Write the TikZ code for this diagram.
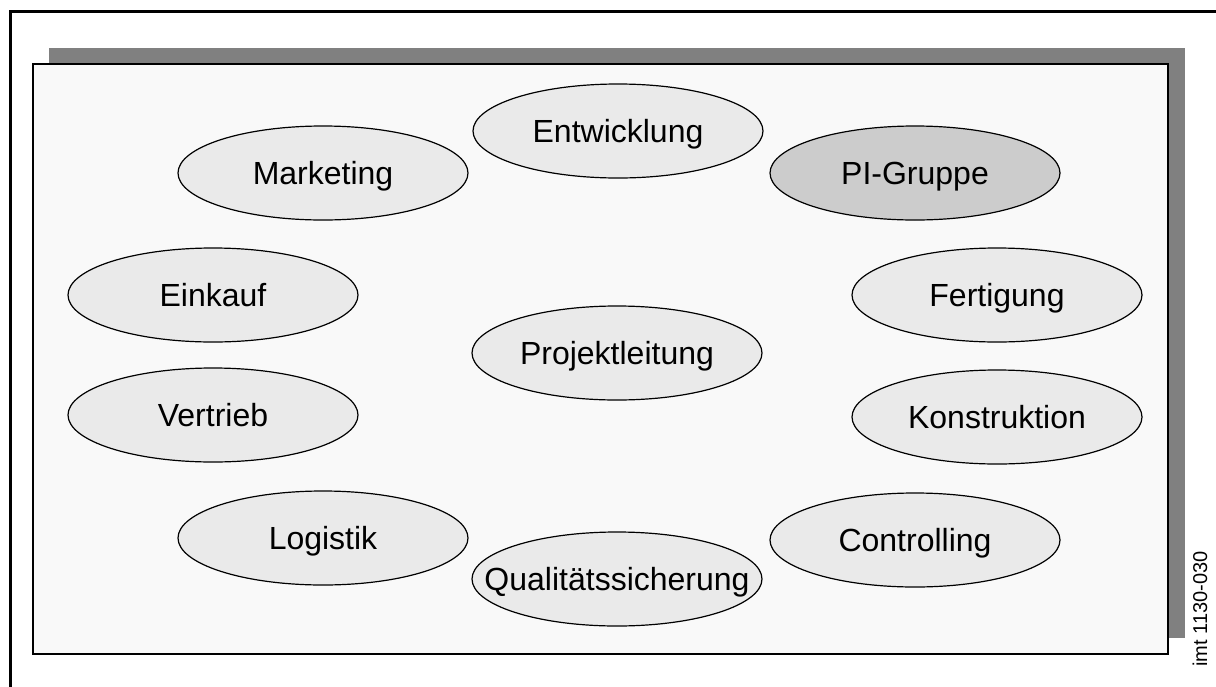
\documentclass[tikz,border=0pt]{standalone}
\usepackage{fontspec}
\setmainfont{Liberation Sans}
\usetikzlibrary{shapes.geometric}
\definecolor{panelfill}{HTML}{F9F9F9}
\definecolor{shadowgray}{HTML}{808080}
\definecolor{unitfill}{HTML}{EAEAEA}
\definecolor{groupfill}{HTML}{CCCCCC}
\begin{document}
\begin{tikzpicture}[x=1pt,y=-1pt,
  unit/.style={ellipse, draw=black, line width=1.2pt, fill=unitfill,
    minimum width=290pt, minimum height=94pt, inner sep=0pt,
    label={[text height=22pt, text depth=0pt, inner sep=0pt,
      font=\fontsize{32}{32}\selectfont]center:#1}},
  frameline/.style={line width=3pt, line cap=rect}]
\useasboundingbox (0,0) rectangle (1216,686);
% outer frame: top and left edges only
\draw[frameline] (10.5,686) -- (10.5,11) -- (1216,11);
% panel with drop shadow
\fill[shadowgray] (49,48) rectangle (1185,638);
\draw[fill=panelfill, line width=2pt] (33,64) rectangle (1168,654);
% organisational units around the project lead
\node[unit=Entwicklung] (entw) at (618,131) {};
\node[unit=Marketing] (mark) at (323,173) {};
\node[unit=PI-Gruppe, fill=groupfill] (pig) at (915,173) {};
\node[unit=Einkauf] (eink) at (213,295) {};
\node[unit=Fertigung] (fert) at (997,295) {};
\node[unit=Projektleitung] (pl) at (617,353) {};
\node[unit=Vertrieb] (vert) at (213,415) {};
\node[unit=Konstruktion] (kons) at (997,417) {};
\node[unit=Logistik] (logi) at (323,538) {};
\node[unit=Controlling] (cont) at (915,540) {};
\node[unit=Qualitätssicherung] (qs) at (617,579) {};
% figure code
\node[rotate=90, font=\fontsize{20}{20}\selectfont, inner sep=0pt] (code) at (1200,609) {imt 1130-030};
\end{tikzpicture}
\end{document}
